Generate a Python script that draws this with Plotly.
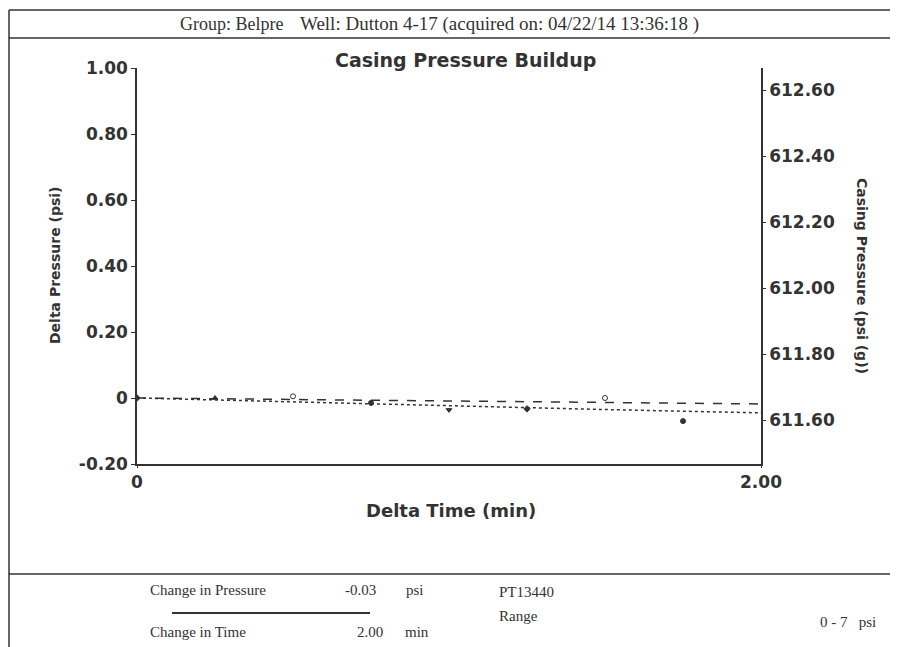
import plotly.graph_objects as go

# ---- data ----
marker_time = [0, 0.25, 0.5, 0.75, 1.0, 1.25, 1.5, 1.75]
marker_delta = [0.0, 0.0, 0.005, -0.015, -0.036, -0.033, 0.0, -0.07]
marker_symbols = ["diamond", "triangle-up", "circle-open", "circle", "triangle-down", "diamond", "circle-open", "circle"]

trend_time = [0, 0.5, 1.0, 1.5, 2.0]
dashed_delta = [0.0, -0.005, -0.010, -0.014, -0.018]
dotted_delta = [0.0, -0.012, -0.024, -0.035, -0.045]

left_ticks = [-0.2, 0, 0.2, 0.4, 0.6, 0.8, 1.0]
left_ticktext = ["-0.20", "0", "0.20", "0.40", "0.60", "0.80", "1.00"]
right_ticks = [611.6, 611.8, 612.0, 612.2, 612.4, 612.6]
right_ticktext = ["611.60", "611.80", "612.00", "612.20", "612.40", "612.60"]
x_ticks = [0, 2]
x_ticktext = ["0", "2.00"]

casing_at_zero = 611.6667

# page is offset by the default 8px body margin
OFF = 8
PW, PH = 898, 647
W, H = PW - OFF, PH - OFF
# plot area in page pixels
L, R, T, B = 137, 761, 68, 464

def px(x):
    return (x - L) / (R - L)

def py(y):
    return (B - y) / (B - T)

ink = "#333333"
serif = "Liberation Serif"
sans = "DejaVu Sans"

fig = go.Figure()
fig.add_trace(go.Scatter(x=trend_time, y=dashed_delta, mode="lines",
                         line=dict(color=ink, width=1.5, dash="dash"), showlegend=False))
fig.add_trace(go.Scatter(x=trend_time, y=dotted_delta, mode="lines",
                         line=dict(color=ink, width=1.5, dash="dot"), showlegend=False))
fig.add_trace(go.Scatter(x=marker_time, y=marker_delta, mode="markers",
                         marker=dict(color=ink, size=5, symbol=marker_symbols,
                                     line=dict(color=ink, width=1)), showlegend=False))
# invisible trace on right axis
fig.add_trace(go.Scatter(x=[0], y=[casing_at_zero], yaxis="y2", mode="markers",
                         marker=dict(opacity=0), showlegend=False, hoverinfo="skip"))

tickfont = dict(family=sans, size=17, color=ink, weight="bold")

fig.update_layout(
    width=W, height=H,
    margin=dict(l=L - OFF, r=PW - R, t=T - OFF, b=PH - B),
    paper_bgcolor="white", plot_bgcolor="white",
    xaxis=dict(range=[0, 2], tickvals=x_ticks, ticktext=x_ticktext, showgrid=False,
               zeroline=False, showline=True, linecolor=ink, linewidth=1.5,
               ticks="outside", ticklen=2, tickcolor=ink, tickfont=tickfont),
    yaxis=dict(range=[-0.2, 1.0], tickvals=left_ticks, ticktext=left_ticktext, showgrid=False,
               zeroline=False, showline=True, linecolor=ink, linewidth=1.5,
               ticks="outside", ticklen=4, tickcolor=ink, tickfont=tickfont),
    yaxis2=dict(range=[casing_at_zero - 0.2, casing_at_zero + 1.0], overlaying="y", side="right",
                tickvals=right_ticks, ticktext=right_ticktext, showgrid=False, zeroline=False,
                showline=True, linecolor=ink, linewidth=1.5, ticks="outside", ticklen=3,
                tickcolor=ink, tickfont=tickfont),
)

ann = []
def text(x, y, s, size=15, family=serif, anchor="left", bold=False, angle=0):
    ann.append(dict(x=px(x), y=py(y), xref="paper", yref="paper", text=s, showarrow=False,
                    xanchor=anchor, yanchor="middle", textangle=angle,
                    font=dict(family=family, size=size, color=ink, weight="bold" if bold else "normal")))

text(178, 24, "Group: Belpre", size=18)
text(298, 24, "Well: Dutton 4-17 (acquired on: 04/22/14 13:36:18 )", size=19)
text(465, 60, "Casing Pressure Buildup", size=19, family=sans, anchor="center", bold=True)
text(451, 510, "Delta Time (min)", size=18, family=sans, anchor="center", bold=True)
text(55, 266, "Delta Pressure (psi)", size=14, family=sans, anchor="center", bold=True, angle=-90)
text(862, 276, "Casing Pressure (psi (g))", size=14, family=sans, anchor="center", bold=True, angle=90)

text(148, 590, "Change in Pressure")
text(343, 590, "-0.03")
text(404, 590, "psi")
text(148, 632, "Change in Time")
text(355, 632, "2.00")
text(403, 632, "min")
text(497, 592, "PT13440")
text(497, 616, "Range")
text(818, 622, "0 - 7   psi")

shapes = []
def line(x0, y0, x1, y1, w=1.5):
    shapes.append(dict(type="line", xref="paper", yref="paper", x0=px(x0), y0=py(y0),
                       x1=px(x1), y1=py(y1), line=dict(color=ink, width=w)))

line(9, 10, 898, 10)
line(9, 38, 893, 38)
line(9, 10, 9, 647)
line(893, 38, 893, 575)
line(9, 574, 893, 574)
line(172, 613, 370, 613, 2)

fig.update_layout(annotations=ann, shapes=shapes)
fig.write_html("out.html")
